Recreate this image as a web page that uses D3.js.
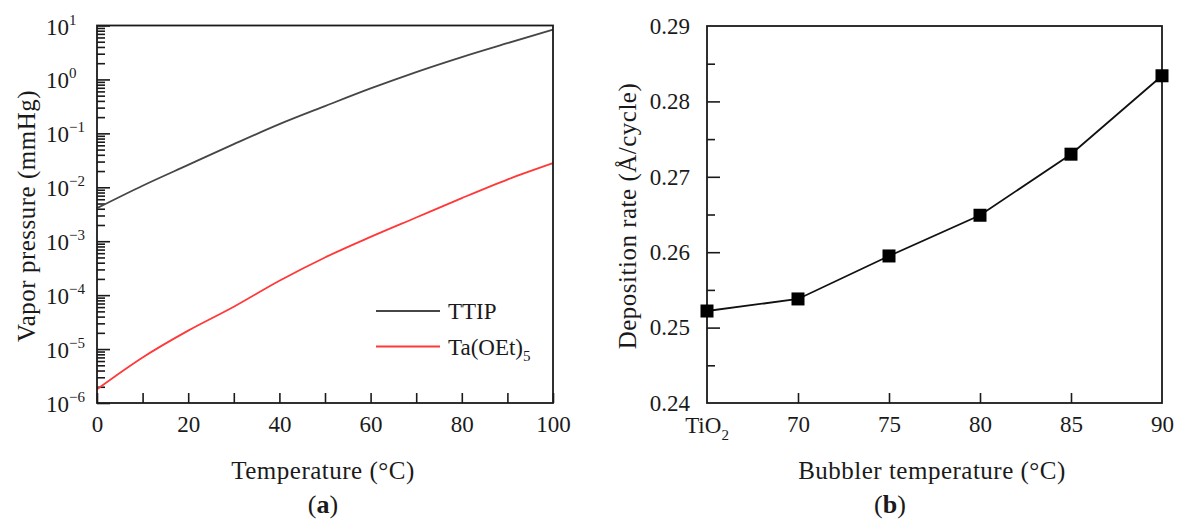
<!DOCTYPE html>
<html>
<head>
<meta charset="utf-8">
<script src="https://cdn.jsdelivr.net/npm/d3@7"></script>
<style>
  body { margin: 0; background: #fff; }
  svg { display: block; }
  text { font-family: "Liberation Serif", "DejaVu Serif", serif; fill: #1a1a1a; }
  .tick line { stroke: #1a1a1a; stroke-width: 1.6px; }
  .title { font-size: 25px; letter-spacing: 0.5px; }
</style>
</head>
<body>
<div id="chart"></div>
<script>
// panel (a): vapor pressure vs temperature
var temps = [0, 10, 20, 30, 40, 50, 60, 70, 80, 90, 100];
var ttip = [4.1e-3, 1.07e-2, 2.6e-2, 6.3e-2, 0.148, 0.32, 0.68, 1.37, 2.6, 4.7, 8.4];
var taoet = [1.8e-6, 7.0e-6, 2.2e-5, 6.1e-5, 1.85e-4, 5.0e-4, 1.2e-3, 2.75e-3, 6.3e-3, 1.39e-2, 2.8e-2];
var decades = [-6, -5, -4, -3, -2, -1, 0, 1];

// panel (b): deposition rate vs bubbler temperature
var bubbler = ["TiO2", "70", "75", "80", "85", "90"];
var rate = [0.2522, 0.2538, 0.2595, 0.2649, 0.2730, 0.2834];
var rateTicks = [0.24, 0.25, 0.26, 0.27, 0.28, 0.29];

var WIDTH = 1178, HEIGHT = 525;

var svg = d3.select("#chart").append("svg")
    .attr("width", WIDTH)
    .attr("height", HEIGHT);

svg.append("rect").attr("width", WIDTH).attr("height", HEIGHT).attr("fill", "#fff");

function noDomain(g) {
    g.select(".domain").remove();
    g.attr("font-family", null);
}

// ---------- panel (a) ----------
var xA = d3.scaleLinear().domain([0, 100]).range([97, 553]);
var yA = d3.scaleLog().domain([1e-6, 1e1]).range([403, 25.5]);

var a = svg.append("g").attr("id", "panel-a");

var minorA = [];
decades.slice(0, -1).forEach(function (e) {
    for (var m = 2; m <= 9; m++) minorA.push(m * Math.pow(10, e));
});

a.append("g")
    .attr("transform", "translate(" + xA(0) + ",0)")
    .call(d3.axisLeft(yA).tickValues(minorA).tickSize(-8).tickFormat(""))
    .call(noDomain);
a.append("g")
    .attr("transform", "translate(" + xA(0) + ",0)")
    .call(d3.axisLeft(yA).tickValues(decades.map(function (e) { return Math.pow(10, e); })).tickSize(-13).tickFormat(""))
    .call(noDomain);

var xAxisA = a.append("g")
    .attr("transform", "translate(0," + yA(1e-6) + ")")
    .call(d3.axisBottom(xA).tickValues(temps).tickSize(-10).tickPadding(13)
        .tickFormat(function (d) { return d % 20 === 0 ? d : ""; }))
    .call(noDomain);
xAxisA.selectAll("text").style("font-size", "23px");

// y tick labels 10^n
var ylab = a.selectAll(".ylab").data(decades).enter().append("text")
    .attr("class", "ylab")
    .attr("x", 46)
    .attr("y", function (d) { return yA(Math.pow(10, d)) + 9; })
    .style("font-size", "23px");
ylab.append("tspan").text("10");
ylab.append("tspan")
    .attr("dy", -10)
    .style("font-size", "15px")
    .text(function (d) { return d < 0 ? "\u2212" + (-d) : d; });

var lineA = function (vals) {
    return d3.line()
        .x(function (d, i) { return xA(temps[i]); })
        .y(function (d) { return yA(d); })
        .curve(d3.curveMonotoneX)(vals);
};

a.append("path").attr("d", lineA(ttip))
    .attr("fill", "none").attr("stroke", "#464646").attr("stroke-width", 1.8);
a.append("path").attr("d", lineA(taoet))
    .attr("fill", "none").attr("stroke", "#ff3838").attr("stroke-width", 1.8);

a.append("rect")
    .attr("x", xA(0)).attr("y", yA(1e1))
    .attr("width", xA(100) - xA(0)).attr("height", yA(1e-6) - yA(1e1))
    .attr("fill", "none").attr("stroke", "#1a1a1a").attr("stroke-width", 1.8);

// legend
var legend = [{name: "TTIP", color: "#464646"}, {name: "Ta(OEt)", sub: "5", color: "#ff3838"}];
var lg = a.selectAll(".legend").data(legend).enter().append("g")
    .attr("class", "legend")
    .attr("transform", function (d, i) { return "translate(376," + (311 + i * 35.5) + ")"; });
lg.append("line").attr("x1", 0).attr("x2", 64)
    .attr("stroke", function (d) { return d.color; }).attr("stroke-width", 1.8);
var lt = lg.append("text").attr("x", 72).attr("y", 8).style("font-size", "23px");
lt.append("tspan").text(function (d) { return d.name; });
lt.append("tspan").attr("dy", 6).style("font-size", "15px").text(function (d) { return d.sub || ""; });

a.append("text")
    .attr("class", "title")
    .attr("x", 323).attr("y", 479)
    .attr("text-anchor", "middle")
    .text("Temperature (\u00B0C)");

a.append("text")
    .attr("class", "title")
    .attr("transform", "translate(35,216)rotate(-90)")
    .attr("text-anchor", "middle")
    .text("Vapor pressure (mmHg)");

var capA = a.append("text").attr("x", 323).attr("y", 513).attr("text-anchor", "middle").style("font-size", "26px");
capA.append("tspan").text("(");
capA.append("tspan").style("font-weight", "bold").text("a");
capA.append("tspan").text(")");

// ---------- panel (b) ----------
var xB = d3.scalePoint().domain(bubbler).range([707, 1162]);
var yB = d3.scaleLinear().domain([0.24, 0.29]).range([403, 26]);

var b = svg.append("g").attr("id", "panel-b");

b.append("g")
    .attr("transform", "translate(" + xB("TiO2") + ",0)")
    .call(d3.axisLeft(yB).tickValues(d3.range(0, 5).map(function (i) { return 0.245 + i * 0.01; })).tickSize(-8).tickFormat(""))
    .call(noDomain);
var yAxisB = b.append("g")
    .attr("transform", "translate(" + xB("TiO2") + ",0)")
    .call(d3.axisLeft(yB).tickValues(rateTicks).tickSize(-13).tickPadding(17).tickFormat(d3.format(".2f")))
    .call(noDomain);
yAxisB.selectAll("text").style("font-size", "23px");
yAxisB.selectAll(".tick line").filter(function (d) { return d === 0.24 || d === 0.29; }).remove();

var xAxisB = b.append("g")
    .attr("transform", "translate(0," + yB(0.24) + ")")
    .call(d3.axisBottom(xB).tickSize(-10).tickPadding(13).tickFormat(function (d) { return d === "TiO2" ? "" : d; }))
    .call(noDomain);
xAxisB.selectAll("text").style("font-size", "23px");
xAxisB.selectAll(".tick line").filter(function (d) { return d === "TiO2" || d === "90"; }).remove();

var tio = b.append("text")
    .attr("x", xB("TiO2")).attr("y", 433)
    .attr("text-anchor", "middle")
    .style("font-size", "23px");
tio.append("tspan").text("TiO");
tio.append("tspan").attr("dy", 7).style("font-size", "15px").text("2");

b.append("rect")
    .attr("x", xB("TiO2")).attr("y", yB(0.29))
    .attr("width", xB("90") - xB("TiO2")).attr("height", yB(0.24) - yB(0.29))
    .attr("fill", "none").attr("stroke", "#1a1a1a").attr("stroke-width", 1.8);

b.append("path")
    .datum(rate)
    .attr("d", d3.line()
        .x(function (d, i) { return xB(bubbler[i]); })
        .y(function (d) { return yB(d); }))
    .attr("fill", "none").attr("stroke", "#111").attr("stroke-width", 1.8);

var SQ = 13;
b.selectAll(".pt").data(rate).enter().append("rect")
    .attr("class", "pt")
    .attr("x", function (d, i) { return xB(bubbler[i]) - SQ / 2; })
    .attr("y", function (d) { return yB(d) - SQ / 2; })
    .attr("width", SQ).attr("height", SQ)
    .attr("fill", "#000");

b.append("text")
    .attr("class", "title")
    .attr("x", 932).attr("y", 479)
    .attr("text-anchor", "middle")
    .text("Bubbler temperature (\u00B0C)");

b.append("text")
    .attr("class", "title")
    .attr("transform", "translate(636,216)rotate(-90)")
    .attr("text-anchor", "middle")
    .text("Deposition rate (\u00C5/cycle)");

var capB = b.append("text").attr("x", 890).attr("y", 513).attr("text-anchor", "middle").style("font-size", "26px");
capB.append("tspan").text("(");
capB.append("tspan").style("font-weight", "bold").text("b");
capB.append("tspan").text(")");
</script>
</body>
</html>
